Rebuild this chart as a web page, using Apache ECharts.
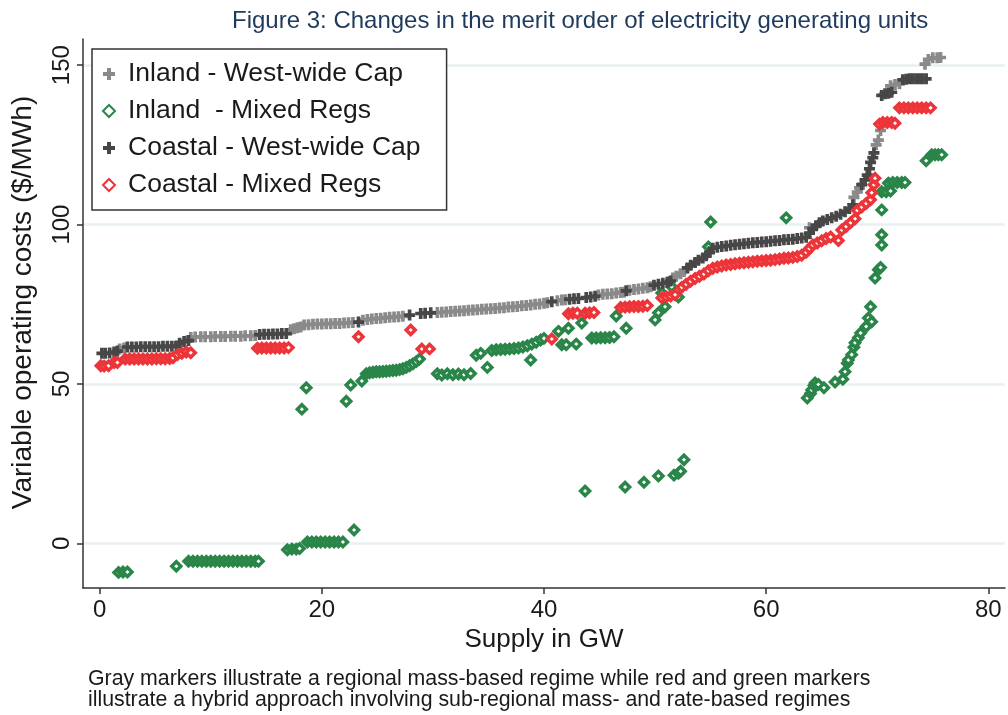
<!DOCTYPE html>
<html lang="en">
<head>
    <meta charset="UTF-8">
    <title>Figure 3</title>
    <script src="https://cdn.jsdelivr.net/npm/echarts@6/dist/echarts.min.js"></script>
    <style>
        html, body { margin: 0; padding: 0; background: #fff; }
    </style>
</head>
<body>
    <div id="main" style="width: 1008px;height:715px;"></div>

    <script type="text/javascript">
        // 数据：[供应量 GW, 运行成本 $/MWh]
        var inlandWest = [
            [1.8,61.0],[2.2,61.3],
            [8.2,64.6],[8.6,64.7],[9.1,64.8],[9.5,64.8],[10.0,64.8],[10.4,64.9],[10.9,64.9],[11.3,64.9],[11.8,65.0],[12.2,65.0],[12.7,65.0],[13.1,65.1],[13.6,65.1],[14.0,65.2],
            [17.2,67.0],[17.5,67.3],[17.8,67.6],[18.1,67.9],
            [18.4,68.5],[18.8,68.6],[19.2,68.7],[19.6,68.8],[20.0,68.8],[20.4,68.9],[20.8,68.9],[21.2,69.0],[21.6,69.0],[22.0,69.1],[22.4,69.2],[22.8,69.3],
            [23.7,70.0],[24.1,70.2],[24.5,70.4],[24.9,70.5],[25.3,70.6],[25.7,70.8],[26.1,70.9],[26.5,71.0],[26.9,71.1],[27.3,71.2],
            [30.4,72.4],[30.8,72.5],[31.2,72.6],[31.6,72.7],[32.0,72.8],[32.4,72.9],[32.8,73.0],[33.2,73.1],[33.6,73.2],[34.0,73.3],[34.4,73.4],[34.8,73.5],[35.2,73.6],
            [35.6,73.7],[36.0,73.8],[36.4,73.9],[36.8,74.1],[37.2,74.2],[37.6,74.3],[38.0,74.5],[38.4,74.6],[38.8,74.8],[39.2,75.0],[39.6,75.1],[40.0,75.3],[40.3,75.5],
            [41.2,76.1],[41.6,76.3],[41.9,76.4],
            [44.9,77.9],[45.3,78.1],[45.7,78.2],[46.1,78.3],[46.5,78.5],[46.9,78.7],[47.2,78.8],
            [47.7,79.4],[48.1,79.6],[48.5,79.8],[48.9,80.0],[49.3,80.2],[49.6,80.5],
            [51.6,83.2],[51.9,83.8],[52.3,84.6],[52.6,85.3],
            [63.9,99.0],[67.9,108.5],[68.2,110.2],[68.4,111.5],
            [69.9,125.0],[70.1,126.5],[70.3,129.5],
            [71.2,143.5],[71.6,143.9],[72.0,144.2],
            [74.3,150.3],[74.6,151.8],[75.0,152.3],[75.4,152.3],[75.7,152.4]
        ];

        var inlandMixed = [
            [1.7,-9.1],[2.1,-9.0],[2.5,-9.0],
            [6.9,-7.2],
            [8.0,-5.6],[8.4,-5.6],[8.8,-5.6],[9.2,-5.6],[9.6,-5.6],[10.0,-5.6],[10.4,-5.6],[10.8,-5.6],[11.2,-5.6],[11.6,-5.6],[12.0,-5.6],[12.4,-5.6],[12.8,-5.6],[13.2,-5.6],[13.6,-5.6],[14.0,-5.6],[14.3,-5.6],
            [16.9,-2.0],[17.3,-1.8],[17.7,-1.8],[18.0,-1.6],
            [18.7,0.4],[19.1,0.4],[19.5,0.4],[19.9,0.4],[20.3,0.4],[20.7,0.4],[21.1,0.4],[21.5,0.4],[21.9,0.4],
            [22.9,4.2],
            [18.2,42.1],[18.6,48.8],
            [22.2,44.6],[22.6,49.7],[23.6,50.9],
            [24.0,53.2],[24.3,53.5],[24.6,53.7],[24.9,53.8],[25.2,53.8],[25.5,53.9],[25.8,54.0],[26.1,54.1],[26.4,54.2],[26.7,54.3],[27.0,54.5],[27.3,54.8],[27.6,55.2],[27.9,55.7],[28.2,56.3],[28.5,57.0],[28.8,57.8],
            [30.4,53.2],[30.8,52.8],[31.3,53.2],[31.8,52.9],[32.3,53.1],[32.8,52.9],[33.4,53.3],
            [33.9,59.0],[34.3,59.6],
            [34.9,55.2],
            [35.3,60.5],[35.7,60.7],[36.1,60.8],[36.5,60.9],[36.9,61.0],[37.3,61.1],[37.7,61.3],[38.1,61.6],[38.5,62.0],[38.9,62.5],[39.3,63.1],[39.7,63.8],[40.0,64.3],
            [38.8,57.5],
            [41.3,66.5],[42.2,67.5],
            [41.6,62.3],[42.0,62.3],[42.9,62.5],
            [43.4,69.1],
            [44.3,64.4],[44.7,64.4],[45.1,64.5],[45.5,64.5],[45.9,64.6],[46.3,64.8],
            [46.5,71.3],[47.4,67.5],
            [50.0,70.1],[50.3,72.3],[50.9,74.2],[50.6,78.5],[51.5,80.5],[52.1,77.3],
            [55.0,100.8],[54.8,93.0],[61.8,102.1],
            [43.7,16.4],[47.3,17.7],[49.0,19.2],[50.3,21.1],[51.7,21.4],[52.1,22.0],[52.3,22.6],[52.6,26.2],
            [63.7,45.6],[64.0,47.0],[64.1,48.1],[64.3,49.5],[64.4,50.3],[64.7,49.8],[65.2,48.8],[66.2,50.6],[66.9,51.5],[67.1,53.8],[67.3,56.5],[67.4,57.5],
            [67.7,59.2],[67.9,61.5],[68.0,62.9],[68.3,64.5],[68.5,66.0],[69.0,68.0],[69.2,70.7],[69.5,69.5],[69.4,74.2],
            [69.8,83.2],[70.1,85.8],[70.3,86.5],[70.4,93.6],[70.4,96.8],[70.4,104.6],
            [70.4,110.3],[70.8,110.3],[71.2,110.5],[71.0,113.0],[71.4,113.2],[71.8,113.2],[72.2,113.2],[72.5,113.2],
            [74.4,120.0],[74.9,121.9],[75.2,121.9],[75.5,121.9],[75.8,121.9]
        ];

        var coastalWest = [
            [0.2,59.6],[0.5,59.6],[0.9,59.7],[1.3,60.0],[1.6,60.3],
            [2.5,61.6],[2.9,61.6],[3.3,61.6],[3.7,61.7],[4.1,61.7],[4.5,61.7],[4.9,61.7],[5.3,61.7],[5.7,61.8],[6.1,61.8],[6.5,61.8],[6.9,61.9],
            [7.2,62.8],[7.6,63.3],[8.0,63.6],
            [14.4,65.5],[14.8,65.6],[15.2,65.6],[15.6,65.7],[16.0,65.7],[16.4,65.8],[16.8,65.8],
            [23.3,69.4],
            [27.9,71.6],[28.9,72.1],[29.3,72.2],[29.8,72.3],
            [40.7,75.8],
            [42.3,76.6],[42.7,76.7],[43.1,76.8],[43.8,77.1],[44.2,77.3],[44.6,77.5],
            [47.4,79.2],
            [49.9,81.0],[50.3,81.3],[50.7,81.6],[51.1,81.9],[51.4,82.3],
            [52.9,86.4],[53.2,87.2],[53.6,88.1],[53.9,88.8],[54.3,89.5],[54.6,90.2],[54.9,91.2],
            [55.2,92.6],[55.6,92.9],[56.0,93.1],[56.4,93.3],[56.8,93.5],[57.2,93.7],[57.6,93.8],[58.0,94.0],[58.4,94.1],[58.8,94.3],[59.2,94.4],
            [59.6,94.5],[60.0,94.6],[60.4,94.8],[60.8,94.9],[61.2,95.0],[61.6,95.2],[62.0,95.3],[62.4,95.4],[62.8,95.6],[63.2,95.8],[63.6,96.0],
            [63.9,97.3],[64.2,98.7],[64.5,99.6],
            [64.8,100.6],[65.1,101.1],[65.5,101.6],[65.9,102.1],[66.3,102.6],[66.7,103.2],[67.1,104.0],[67.5,105.0],[67.8,106.2],
            [68.6,112.5],[68.9,114.0],[69.1,115.5],
            [69.3,117.5],[69.4,119.5],[69.6,121.0],[69.7,122.5],
            [70.4,140.5],[70.7,141.0],[71.0,141.2],[71.3,141.5],
            [72.3,145.4],[72.6,145.6],[72.9,145.7],[73.2,145.7],[73.5,145.7],[73.8,145.7],[74.1,145.7],[74.4,145.7]
        ];

        var coastalMixed = [
            [0.1,55.7],[0.4,55.6],[0.8,55.7],[1.3,56.7],[1.6,56.7],
            [2.3,57.8],[2.7,57.8],[3.1,57.8],[3.5,57.8],[3.9,57.8],[4.3,57.8],[4.7,57.8],[5.1,57.9],[5.5,57.9],[5.9,57.9],[6.3,58.0],[6.6,58.2],
            [7.0,59.2],[7.4,59.6],[7.8,60.0],[8.2,59.8],
            [14.2,61.2],[14.6,61.3],[15.0,61.3],[15.4,61.3],[15.8,61.3],[16.2,61.3],[16.6,61.3],[17.0,61.4],
            [23.3,64.8],
            [28.0,66.9],
            [29.0,61.0],[29.7,61.0],
            [40.7,64.1],
            [42.2,72.0],[42.6,72.2],[43.0,72.2],[43.7,72.2],[44.1,72.3],[44.5,72.4],
            [46.9,74.0],[47.3,74.1],[47.7,74.2],[48.1,74.3],[48.5,74.3],[48.9,74.4],[49.3,74.6],
            [50.6,77.0],[51.0,77.3],[51.4,77.6],[51.8,78.0],
            [52.4,80.3],[52.8,81.3],[53.2,82.2],[53.6,83.1],[54.0,83.8],[54.4,84.5],[54.8,85.5],
            [55.2,86.3],[55.6,86.7],[56.0,87.0],[56.4,87.3],[56.8,87.5],[57.2,87.7],[57.6,87.9],[58.0,88.0],[58.4,88.2],[58.8,88.3],[59.2,88.5],
            [59.6,88.6],[60.0,88.7],[60.4,88.8],[60.8,89.0],[61.2,89.2],[61.6,89.4],[62.0,89.5],[62.4,89.7],[62.8,90.0],[63.2,90.4],[63.6,91.3],
            [63.9,92.5],[64.2,93.6],[64.6,94.2],[65.0,94.9],[65.4,95.6],[65.8,96.1],[66.5,95.0],
            [66.8,98.3],[67.2,99.4],[67.6,100.6],[68.0,101.8],
            [68.2,104.5],[68.6,105.5],[69.0,106.6],[69.4,107.8],
            [69.5,110.0],[69.7,112.5],[69.8,114.5],
            [70.2,131.5],[70.5,132.0],[70.9,132.0],[71.3,132.0],[71.6,131.8],
            [72.0,136.6],[72.4,136.6],[72.8,136.6],[73.2,136.6],[73.6,136.6],[74.0,136.6],[74.4,136.6],[74.8,136.6]
        ];

        var xTicks = [0, 20, 40, 60, 80];
        var yTicks = [0, 50, 100, 150];
        var seriesNames = ['Inland - West-wide Cap', 'Inland  - Mixed Regs', 'Coastal - West-wide Cap', 'Coastal - Mixed Regs'];

        var plusPath = 'path://M3,0H6V3H9V6H6V9H3V6H0V3H3Z';
        var font = 'Liberation Sans, Arial, Helvetica, sans-serif';

        function plusSeries(name, data, color) {
            return {
                name: name,
                type: 'scatter',
                data: data,
                symbol: plusPath,
                symbolSize: 11,
                itemStyle: { color: color, opacity: 1 },
                emphasis: { disabled: true }
            };
        }

        function diamondSeries(name, data, color) {
            return {
                name: name,
                type: 'scatter',
                data: data,
                symbol: 'diamond',
                symbolSize: 9,
                itemStyle: { color: '#ffffff', borderColor: color, borderWidth: 3.5, opacity: 1 },
                emphasis: { disabled: true }
            };
        }

        var myChart = echarts.init(document.getElementById('main'));
        myChart.setOption({
            animation: false,
            backgroundColor: '#ffffff',
            title: {
                text: 'Figure 3: Changes in the merit order of electricity generating units',
                left: 227,
                top: 4,
                textStyle: { fontFamily: font, fontSize: 24, fontWeight: 'normal', color: '#1f3a5c' }
            },
            legend: {
                orient: 'vertical',
                left: 92,
                top: 49,
                padding: [11, 26, 11, 10],
                itemGap: 9,
                itemWidth: 12,
                itemHeight: 12,
                borderColor: '#333333',
                borderWidth: 1.5,
                backgroundColor: '#ffffff',
                textStyle: { fontFamily: font, fontSize: 26.5, color: '#1a1a1a', lineHeight: 28, padding: [0, 0, 0, 8] },
                data: seriesNames
            },
            grid: { left: 83, right: 3, top: 39, bottom: 127 },
            xAxis: {
                type: 'value',
                min: -1.5,
                max: 81.5,
                name: 'Supply in GW',
                nameLocation: 'middle',
                nameGap: 38,
                nameTextStyle: { fontFamily: font, fontSize: 26, color: '#1a1a1a' },
                axisLine: { onZero: false, lineStyle: { color: '#333333', width: 1.5 } },
                axisTick: { show: true, length: 6, customValues: xTicks, lineStyle: { color: '#333333', width: 1.5 } },
                axisLabel: { customValues: xTicks, margin: 10, fontFamily: font, fontSize: 24, color: '#1a1a1a' },
                splitLine: { show: false }
            },
            yAxis: {
                type: 'value',
                min: -14,
                max: 158.2,
                name: 'Variable operating costs ($/MWh)',
                nameLocation: 'middle',
                nameRotate: 90,
                nameGap: 46,
                nameTextStyle: { fontFamily: font, fontSize: 28, color: '#1a1a1a', padding: [0, 0, 0, 22] },
                axisLine: { show: true, onZero: false, lineStyle: { color: '#333333', width: 1.5 } },
                axisTick: { show: true, length: 6, customValues: yTicks, lineStyle: { color: '#333333', width: 1.5 } },
                axisLabel: { customValues: yTicks, rotate: 90, margin: 9, fontFamily: font, fontSize: 24, color: '#1a1a1a' },
                splitLine: { show: true, lineStyle: { color: '#e8f0f2', width: 2.5 } }
            },
            graphic: [{
                type: 'text',
                left: 88,
                top: 669,
                style: {
                    text: 'Gray markers illustrate a regional mass-based regime while red and green markers\nillustrate a hybrid approach involving sub-regional mass- and rate-based regimes',
                    font: '21.3px ' + font,
                    fill: '#1a1a1a',
                    lineHeight: 21
                }
            }],
            series: [
                plusSeries(seriesNames[0], inlandWest, '#8a8a8a'),
                diamondSeries(seriesNames[1], inlandMixed, '#2a8549'),
                plusSeries(seriesNames[2], coastalWest, '#474747'),
                diamondSeries(seriesNames[3], coastalMixed, '#ec3439')
            ]
        });
    </script>
</body>
</html>
